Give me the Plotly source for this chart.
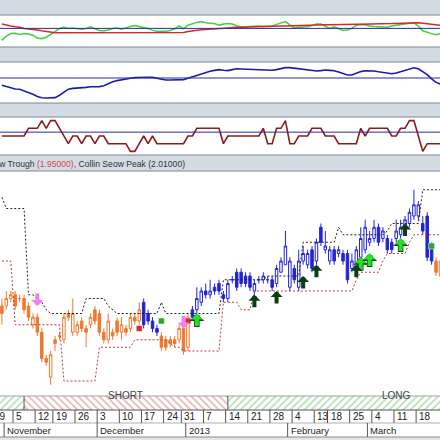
import pandas as pd
import plotly.graph_objects as go

W = H = 440

# ---------------- trading calendar ----------------
holidays = ["2012-11-13", "2012-12-25", "2013-02-11", "2013-02-12"]
session_days = [d for d in pd.bdate_range("2012-10-29", "2013-03-25")
                if d.strftime("%Y-%m-%d") not in holidays]
first_bar_date = "2012-10-31"

# ---------------- daily bars (Oct 31 2012 .. Mar 25 2013) ----------------
opens = [1.855, 1.855, 1.865, 1.870, 1.865, 1.865, 1.855, 1.830, 1.840, 1.820,
         1.785, 1.760, 1.810, 1.815, 1.810, 1.845, 1.820, 1.820, 1.835, 1.825,
         1.830, 1.850, 1.845, 1.820, 1.810, 1.820, 1.835, 1.820, 1.825, 1.825,
         1.840, 1.835, 1.860, 1.845, 1.835, 1.825, 1.815, 1.810, 1.810, 1.810,
         1.810, 1.825, 1.800, 1.850, 1.850, 1.860, 1.875, 1.870, 1.880, 1.885,
         1.870, 1.865, 1.890, 1.900, 1.900, 1.895, 1.895, 1.875, 1.890, 1.890,
         1.890, 1.890, 1.885, 1.900, 1.910, 1.880, 1.905, 1.880, 1.915, 1.910,
         1.930, 1.915, 1.960, 1.930, 1.915, 1.930, 1.925, 1.925, 1.925, 1.905,
         1.905, 1.920, 1.930, 1.940, 1.945, 1.960, 1.945, 1.945, 1.940, 1.945,
         1.950, 1.955, 1.965, 1.975, 1.975, 1.965, 1.975, 1.935, 1.915, 1.895]
highs = [1.865, 1.875, 1.875, 1.875, 1.870, 1.870, 1.860, 1.845, 1.845, 1.825,
         1.790, 1.795, 1.815, 1.820, 1.845, 1.850, 1.865, 1.835, 1.840, 1.830,
         1.845, 1.855, 1.850, 1.825, 1.845, 1.825, 1.840, 1.840, 1.830, 1.845,
         1.845, 1.860, 1.865, 1.850, 1.840, 1.830, 1.820, 1.815, 1.815, 1.815,
         1.830, 1.830, 1.845, 1.855, 1.880, 1.880, 1.885, 1.890, 1.885, 1.890,
         1.875, 1.890, 1.895, 1.905, 1.905, 1.900, 1.900, 1.890, 1.895, 1.900,
         1.895, 1.895, 1.910, 1.920, 1.955, 1.920, 1.910, 1.930, 1.935, 1.930,
         1.935, 1.945, 1.965, 1.955, 1.935, 1.935, 1.935, 1.930, 1.930, 1.925,
         1.935, 1.960, 1.970, 1.955, 1.970, 1.965, 1.960, 1.950, 1.945, 1.970,
         1.970, 1.975, 1.985, 2.010, 1.995, 1.975, 1.980, 1.940, 1.920, 1.920]
lows = [1.830, 1.850, 1.860, 1.850, 1.860, 1.845, 1.835, 1.825, 1.815, 1.780,
        1.775, 1.750, 1.795, 1.810, 1.805, 1.835, 1.815, 1.815, 1.820, 1.800,
        1.825, 1.830, 1.815, 1.805, 1.805, 1.810, 1.815, 1.810, 1.815, 1.820,
        1.830, 1.830, 1.825, 1.830, 1.820, 1.815, 1.795, 1.795, 1.800, 1.800,
        1.805, 1.790, 1.795, 1.835, 1.845, 1.855, 1.865, 1.865, 1.870, 1.870,
        1.860, 1.860, 1.885, 1.875, 1.880, 1.880, 1.875, 1.870, 1.885, 1.885,
        1.885, 1.875, 1.880, 1.900, 1.910, 1.875, 1.885, 1.875, 1.910, 1.905,
        1.900, 1.910, 1.935, 1.925, 1.910, 1.910, 1.920, 1.910, 1.885, 1.900,
        1.900, 1.915, 1.925, 1.935, 1.940, 1.935, 1.940, 1.925, 1.925, 1.940,
        1.945, 1.950, 1.960, 1.970, 1.970, 1.950, 1.915, 1.910, 1.895, 1.890]
closes = [1.845, 1.865, 1.870, 1.855, 1.865, 1.850, 1.840, 1.840, 1.820, 1.785,
          1.780, 1.790, 1.805, 1.815, 1.840, 1.840, 1.845, 1.830, 1.825, 1.820,
          1.840, 1.835, 1.820, 1.810, 1.835, 1.815, 1.820, 1.830, 1.820, 1.840,
          1.835, 1.850, 1.830, 1.835, 1.825, 1.820, 1.800, 1.800, 1.805, 1.805,
          1.825, 1.795, 1.840, 1.840, 1.865, 1.875, 1.870, 1.875, 1.875, 1.875,
          1.865, 1.885, 1.890, 1.880, 1.885, 1.885, 1.880, 1.885, 1.890, 1.895,
          1.890, 1.880, 1.905, 1.915, 1.935, 1.915, 1.890, 1.915, 1.925, 1.925,
          1.905, 1.940, 1.940, 1.935, 1.930, 1.915, 1.930, 1.915, 1.890, 1.915,
          1.930, 1.945, 1.960, 1.945, 1.960, 1.940, 1.955, 1.930, 1.930, 1.955,
          1.960, 1.970, 1.980, 1.990, 1.990, 1.955, 1.920, 1.915, 1.900, 1.915]
# bar colouring runs: o = short-side (orange), b = long-side (blue)
trend_runs = [("o", 32), ("b", 4), ("o", 7), ("b", 55), ("o", 2)]

# Collin Seow peak / trough channels
peak = [2.000, 1.985, 1.985, 1.985, 1.985, 1.985, 1.870, 1.870, 1.865, 1.860,
        1.850, 1.845, 1.845, 1.845, 1.845, 1.845, 1.845, 1.845, 1.845, 1.865,
        1.865, 1.865, 1.865, 1.865, 1.855, 1.850, 1.845, 1.845, 1.845, 1.845,
        1.845, 1.845, 1.845, 1.845, 1.845, 1.845, 1.860, 1.845, 1.845, 1.845,
        1.845, 1.845, 1.845, 1.845, 1.845, 1.845, 1.845, 1.845, 1.845, 1.845,
        1.890, 1.890, 1.890, 1.890, 1.890, 1.890, 1.890, 1.890, 1.890, 1.890,
        1.895, 1.895, 1.895, 1.895, 1.895, 1.895, 1.895, 1.895, 1.940, 1.940,
        1.940, 1.940, 1.940, 1.940, 1.940, 1.940, 1.960, 1.950, 1.950, 1.950,
        1.950, 1.950, 1.950, 1.950, 1.950, 1.950, 1.950, 1.955, 1.965, 1.965,
        1.965, 1.965, 1.965, 1.965, 1.965, 2.010, 2.010, 2.010, 2.010, 2.010]
trough = [1.915, 1.915, 1.915, 1.830, 1.830, 1.830, 1.830, 1.830, 1.830, 1.830,
          1.830, 1.830, 1.830, 1.830, 1.755, 1.755, 1.755, 1.755, 1.755, 1.755,
          1.755, 1.755, 1.800, 1.800, 1.800, 1.800, 1.800, 1.800, 1.800, 1.800,
          1.810, 1.810, 1.810, 1.810, 1.810, 1.810, 1.810, 1.810, 1.805, 1.800,
          1.800, 1.795, 1.795, 1.795, 1.795, 1.795, 1.795, 1.795, 1.795, 1.795,
          1.860, 1.860, 1.860, 1.860, 1.850, 1.850, 1.850, 1.875, 1.875, 1.875,
          1.875, 1.875, 1.875, 1.875, 1.875, 1.875, 1.875, 1.875, 1.875, 1.875,
          1.875, 1.875, 1.875, 1.875, 1.875, 1.875, 1.875, 1.875, 1.875, 1.875,
          1.890, 1.900, 1.900, 1.900, 1.900, 1.900, 1.915, 1.925, 1.925, 1.925,
          1.925, 1.925, 1.940, 1.950, 1.950, 1.950, 1.950, 1.950, 1.950, 1.950]

# ---------------- indicator panels ----------------
osc_fast = [20, 31, 37, 38, 35, 37, 36, 33, 26, 24, 28, 34, 42, 50, 53, 50, 51, 49, 48, 50,
            54, 49, 45, 44, 46, 50, 51, 48, 52, 55, 57, 55, 53, 50, 45, 43, 43, 43, 45, 49,
            56, 49, 58, 62, 65, 67, 64, 63, 62, 58, 61, 62, 61, 56, 54, 54, 55, 56, 56, 55,
            55, 56, 60, 64, 67, 59, 51, 53, 54, 54, 57, 61, 61, 55, 50, 54, 50, 45, 46, 50,
            58, 60, 59, 56, 55, 54, 54, 53, 56, 58, 60, 62, 63, 64, 56, 44, 40, 37, 34, 37]
osc_slow = [61, 58, 56, 54, 53, 50, 49, 47, 46, 44, 42, 40, 39, 39, 39, 39, 39, 39, 39, 39,
            39, 39, 39, 39, 39, 39, 39, 39, 39, 39, 39, 39, 39, 39, 39, 40, 40, 40, 40, 40,
            40, 40, 42, 44, 46, 46.5, 47, 47.5, 48, 49, 50, 51, 52, 52.5, 53, 53.5, 54, 54, 54, 54.5,
            55, 55, 55.5, 56, 56, 56.5, 57, 57, 57.5, 58, 58, 58.5, 58.5, 59, 59, 59.5, 59.5, 60, 60, 60,
            60.5, 60.5, 60.5, 61, 61, 61, 61, 61.5, 62, 62.5, 63, 63.5, 64, 64, 64, 63, 62, 61, 59, 58]
osc_level = 50
momentum = [-3.6, -4.2, -5.0, -5.5, -5.6, -6.4, -7.2, -8.1, -9.2, -9.9,
            -10.0, -10.0, -9.8, -8.6, -6.9, -5.6, -5.2, -5.1, -4.9, -4.7,
            -4.4, -4.4, -4.3, -3.9, -2.8, -1.9, -1.3, -0.8, -0.5, -0.1,
            0.2, 0.35, 0.35, 0.4, 0.3, -0.2, -0.7, -1.0, -1.0, -1.0,
            -1.0, -0.8, -0.1, 0.6, 1.4, 2.3, 2.9, 3.4, 3.8, 4.2,
            3.9, 3.7, 4.2, 4.6, 4.5, 4.4, 4.2, 4.1, 4.0, 3.8,
            3.7, 3.9, 4.2, 4.6, 5.2, 5.2, 4.9, 4.6, 4.2, 4.0,
            3.8, 3.5, 3.7, 4.0, 3.8, 3.6, 3.0, 2.2, 1.5, 1.5,
            2.3, 3.2, 3.6, 3.7, 3.5, 3.1, 2.7, 2.4, 2.1, 2.5,
            3.1, 3.6, 4.3, 5.1, 4.6, 3.2, 1.7, -0.4, -2.2, -3.0]
momentum_level = 0
swing = [0, 0, 0, 0, 0, 0, 1, 1, 1, 2, 1, 2, 2, 1, 0, -1, 0, 0, -1, 0,
         0, -1, 0, 0, -1, -1, -1, -1, -1, -2, -2, -1, 0, -1, 0, -1, -1, -1, -1, -1,
         -1, -1, 0, 0, 1, 1, 1, 1, 1, 1, -1, 0, 0, 0, 0, 0, 0, 0, 0, 1,
         -1, -1, 1, 1, 2, -1, -1, 0, 0, 0, 1, 1, 1, 0, 0, 0, -1, -1, -1, -1,
         -1, 1, 0, 1, 1, 1, 1, 1, 0, 0, 1, 1, 2, 2, 0, -2, -1, -1, -1, -1]
swing_level = 0.5

# ---------------- regimes & signals ----------------
regime_names = ["LONG", "SHORT", "LONG"]
regime_starts = ["2012-10-29", "2012-11-07", "2013-01-14"]
regime_label_dates = ["", "2012-12-11", "2013-03-11"]

sell_arrow_dates = ["2012-11-12", "2012-12-31"]
sell_arrow_prices = [1.855, 1.825]
buy_arrow_dates = ["2013-01-03", "2013-02-27", "2013-03-01", "2013-03-12"]
buy_arrow_prices = [1.845, 1.920, 1.925, 1.945]
add_arrow_dates = ["2013-01-22", "2013-01-29", "2013-02-06", "2013-02-13", "2013-02-26", "2013-03-13"]
add_arrow_prices = [1.870, 1.875, 1.895, 1.910, 1.910, 1.965]
flag_dates = ["2012-12-14", "2012-12-21", "2013-01-01", "2013-03-21"]
flag_prices = [1.825, 1.835, 1.835, 1.935]
flag_kinds = ["sell", "buy", "sell", "buy"]

# ---------------- helpers ----------------
pos_of = {d.strftime("%Y-%m-%d"): k for k, d in enumerate(session_days)}
x_start = pos_of[first_bar_date]
xs = list(range(x_start, x_start + len(closes)))
trend = [c for c, n in trend_runs for _ in range(n)]
X_LO, X_HI = 1.569, 100.89


def py(pix):  # pixel row -> paper fraction
    return 1 - pix / H


def px_paper(xval):  # data x -> paper fraction (for labels that may sit past the edge)
    return (xval - X_LO) / (X_HI - X_LO)


ORANGE = "#f0782e"
BLUE = "#2323d6"
BAND = "#d3dbe4"
EDGE = "#7f868e"
FONT = "Liberation Sans, Arial, sans-serif"

fig = go.Figure()

for code, col in [("o", ORANGE), ("b", BLUE)]:
    idx = [k for k in range(len(closes)) if trend[k] == code]
    fig.add_trace(go.Candlestick(
        x=[xs[k] for k in idx], open=[opens[k] for k in idx], high=[highs[k] for k in idx],
        low=[lows[k] for k in idx], close=[closes[k] for k in idx],
        increasing=dict(line=dict(color=col, width=1), fillcolor="white"),
        decreasing=dict(line=dict(color=col, width=1), fillcolor=col),
        whiskerwidth=0, showlegend=False, hoverinfo="skip", xaxis="x", yaxis="y"))

fig.add_trace(go.Scatter(x=xs, y=peak, mode="lines", line=dict(color="#222222", width=1, dash="2px,2px"),
                         showlegend=False, hoverinfo="skip", yaxis="y"))
fig.add_trace(go.Scatter(x=xs, y=trough, mode="lines", line=dict(color="#c43a3a", width=1, dash="2px,2px"),
                         showlegend=False, hoverinfo="skip", yaxis="y"))

# flags
fig.add_trace(go.Scatter(
    x=[pos_of[d] for d in flag_dates], y=flag_prices, mode="markers",
    marker=dict(symbol="square", size=6,
                color=["#e02828" if k == "sell" else "#2aa82a" for k in flag_kinds],
                line=dict(color="white", width=0.5)),
    showlegend=False, hoverinfo="skip", yaxis="y"))

# indicator lines
fig.add_trace(go.Scatter(x=xs, y=osc_fast, mode="lines", line=dict(color="#3fcf3f", width=1.5),
                         showlegend=False, hoverinfo="skip", yaxis="y2"))
fig.add_trace(go.Scatter(x=xs, y=osc_slow, mode="lines", line=dict(color="#d42a2a", width=1.5),
                         showlegend=False, hoverinfo="skip", yaxis="y2"))
fig.add_trace(go.Scatter(x=xs, y=momentum, mode="lines", line=dict(color="#1c1caa", width=1.6),
                         showlegend=False, hoverinfo="skip", yaxis="y3"))
fig.add_trace(go.Scatter(x=xs, y=swing, mode="lines", line=dict(color="#8a1c1c", width=1.6),
                         showlegend=False, hoverinfo="skip", yaxis="y4"))

# regime band (hatched bars)
band_x, band_w, band_shape, band_fg = [], [], [], []
for k, name in enumerate(regime_names):
    s = pos_of[regime_starts[k]] if k > 0 else pos_of[regime_starts[k]] - 3
    e = pos_of[regime_starts[k + 1]] if k + 1 < len(regime_names) else xs[-1] + 4
    band_x.append((s + e) / 2)
    band_w.append(e - s)
    band_shape.append("/" if name == "LONG" else "\\")
    band_fg.append("#62b862" if name == "LONG" else "#c86464")
fig.add_trace(go.Bar(
    x=band_x, y=[1] * len(band_x), base=0, width=band_w, yaxis="y5",
    marker=dict(color="white", line=dict(width=0),
                pattern=dict(shape=band_shape, fgcolor=band_fg, bgcolor="white", size=5, solidity=0.3)),
    showlegend=False, hoverinfo="skip"))

shapes = []
annotations = []

# grey header bands
for top, bot in [(-1, 15), (47, 62), (103, 117), (155, 171)]:
    shapes.append(dict(type="rect", xref="paper", yref="paper", x0=-0.01, x1=1.01,
                       y0=py(bot), y1=py(top), fillcolor=BAND, line=dict(color=EDGE, width=1), layer="below"))
# bottom axis area
shapes.append(dict(type="rect", xref="paper", yref="paper", x0=-0.01, x1=1.01, y0=-0.01, y1=py(437),
                   fillcolor="#e6e6e6", line=dict(width=0), layer="below"))
for row, col in [(396, "#a0a0a0"), (410, "#555555"), (423, "#b0b0b0"), (437, "#888888")]:
    shapes.append(dict(type="line", xref="paper", yref="paper", x0=0, x1=1, y0=py(row), y1=py(row),
                       line=dict(color=col, width=1)))

# reference levels
for ax, lvl in [("y2", osc_level), ("y3", momentum_level), ("y4", swing_level)]:
    shapes.append(dict(type="line", xref="paper", yref=ax, x0=0, x1=1, y0=lvl, y1=lvl,
                       line=dict(color="#2b2b9a", width=1)))

# regime boundaries & labels
for k in range(1, len(regime_starts)):
    xb = pos_of[regime_starts[k]]
    shapes.append(dict(type="line", xref="x", yref="paper", x0=xb, x1=xb, y0=py(410), y1=py(396),
                       line=dict(color="#555555", width=1)))
for k, name in enumerate(regime_names):
    if regime_label_dates[k]:
        annotations.append(dict(x=pos_of[regime_label_dates[k]], y=py(403), xref="x", yref="paper",
                                text=name, showarrow=False, font=dict(family=FONT, size=10, color="#444444")))

# date axis: week ticks and month ticks
for k, d in enumerate(session_days):
    new_week = k == 0 or d.isocalendar()[1] != session_days[k - 1].isocalendar()[1]
    new_month = k > 0 and d.month != session_days[k - 1].month
    xt = px_paper(k - 0.5)
    if new_week and xt * W + 10 < W:
        shapes.append(dict(type="line", xref="paper", yref="paper", x0=xt, x1=xt, y0=py(423), y1=py(410),
                           line=dict(color="#555555", width=1)))
        annotations.append(dict(x=xt, y=py(416.5), xref="paper", yref="paper", text=str(d.day),
                                xanchor="left", yanchor="middle", xshift=1, showarrow=False,
                                font=dict(family=FONT, size=10, color="#222222")))
    if new_month:
        label = str(d.year) if d.month == 1 else d.strftime("%B")
        shapes.append(dict(type="line", xref="paper", yref="paper", x0=xt, x1=xt, y0=py(437), y1=py(423),
                           line=dict(color="#555555", width=1)))
        annotations.append(dict(x=xt, y=py(430), xref="paper", yref="paper", text=label,
                                xanchor="left", yanchor="middle", xshift=1, showarrow=False,
                                font=dict(family=FONT, size=9.5, color="#222222")))

# signal arrows


def arrow(date, price, colour, up, width=4, scale=2.0, length=14):
    return dict(x=pos_of[date], y=price, xref="x", yref="y", text="", showarrow=True,
                arrowhead=1, arrowsize=scale / width, arrowwidth=width, arrowcolor=colour,
                ax=0, ay=length if up else -length, standoff=0)


for d, p in zip(sell_arrow_dates, sell_arrow_prices):
    annotations.append(arrow(d, p, "#ee82ee", False))
for d, p in zip(buy_arrow_dates, buy_arrow_prices):
    annotations.append(arrow(d, p, "#0d4a16", True, width=5.5, scale=2.5, length=15))
    annotations.append(arrow(d, p, "#22e222", True))
for d, p in zip(add_arrow_dates, add_arrow_prices):
    annotations.append(arrow(d, p, "#0b3d14", True))

# header legend text (its start is cut off by the left edge, as in the source)
annotations.append(dict(
    x=187 / W, y=py(163.5), xref="paper", yref="paper", xanchor="right", yanchor="middle", showarrow=False,
    text=(f"Collin Seow Trough <span style='color:#d94848'>({trough[-1]:.5f})</span>, "
          f"Collin Seow Peak ({peak[-1]:.5f})"),
    font=dict(family=FONT, size=8.6, color="#333333")))

hidden = dict(visible=False, showgrid=False, zeroline=False, fixedrange=True)
fig.update_layout(
    width=W, height=H, margin=dict(l=0, r=0, t=0, b=0),
    paper_bgcolor="white", plot_bgcolor="rgba(0,0,0,0)", boxgap=0.2,
    showlegend=False, shapes=shapes, annotations=annotations,
    xaxis=dict(domain=[0, 1], range=[X_LO, X_HI], rangeslider=dict(visible=False), **hidden),
    yaxis=dict(domain=[py(395), py(172)], range=[1.7363, 2.0337], anchor="x", **hidden),
    yaxis2=dict(domain=[py(47), py(16)], range=[3.5, 81], anchor="x", **hidden),
    yaxis3=dict(domain=[py(103), py(63)], range=[-12.5, 7.5], anchor="x", **hidden),
    yaxis4=dict(domain=[py(155), py(118)], range=[-2.47, 2.34], anchor="x", **hidden),
    yaxis5=dict(domain=[py(410), py(396)], range=[0, 1], anchor="x", **hidden),
)

fig.write_html("out.html")
